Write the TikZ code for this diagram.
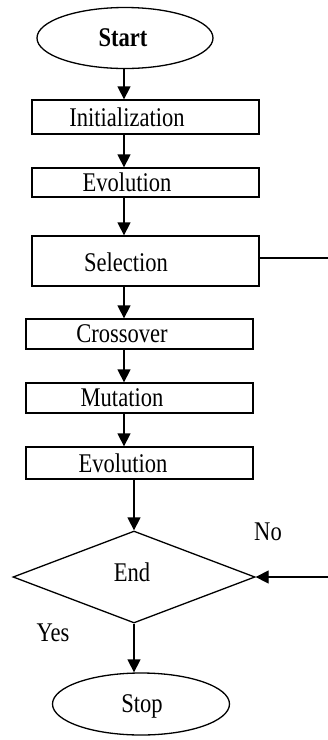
\documentclass[tikz,border=0pt]{standalone}
\usepackage{fontspec}
\setmainfont{Liberation Serif}[FakeStretch=0.835]
\usetikzlibrary{shapes.geometric,arrows.meta}
\begin{document}
\begin{tikzpicture}[x=1pt,y=-1pt,
  font=\fontsize{27}{31}\selectfont,
  line width=1.3pt,
  box/.style={draw, rectangle, inner sep=0pt, minimum width=227pt},
  oval/.style={draw, ellipse, inner sep=0pt, minimum width=176pt, minimum height=61pt},
  dec/.style={draw, diamond, inner sep=0pt, minimum width=242pt, minimum height=92pt},
  txt/.style={inner sep=0pt},
  arr/.style={-{Triangle[width=13pt,length=13pt]}}]
\fill[white] (0,0) rectangle (328,740);
\useasboundingbox (0,0) rectangle (328,740);
% shapes
\node[oval] (start) at (125,38) {};
\node[txt, font=\fontsize{27}{31}\selectfont\bfseries] (tstart) at (123,38) {Start};
\node[box, minimum height=34pt] (init) at (145.5,117) {};
\node[txt] (tinit) at (127,117) {Initialization};
\node[box, minimum height=29pt] (evo1) at (145.5,182.5) {};
\node[txt] (tevo1) at (127,182.5) {Evolution};
\node[box, minimum height=50pt] (sel) at (145.5,261) {};
\node[txt] (tsel) at (126,262) {Selection};
\node[box, minimum height=30pt] (cross) at (139.5,334) {};
\node[txt] (tcross) at (122,334) {Crossover};
\node[box, minimum height=30pt] (mut) at (139.5,398) {};
\node[txt] (tmut) at (122,398) {Mutation};
\node[box, minimum height=32pt] (evo2) at (139.5,463) {};
\node[txt] (tevo2) at (123,463) {Evolution};
\node[dec] (end) at (134,577) {};
\node[txt] (tend) at (132,572) {End};
\node[oval, minimum width=177pt, minimum height=62pt] (stop) at (141,704) {};
\node[txt] (tstop) at (142,706) {Stop};
\node[txt] (no) at (268,532) {No};
\node[txt] (yes) at (53,633) {Yes};
% connectors
\draw[arr] (start.south -| 124,0) -- (init.north -| 124,0);
\draw[arr] (init.south -| 124,0) -- (evo1.north -| 124,0);
\draw[arr] (evo1.south -| 124,0) -- (sel.north -| 124,0);
\draw[arr] (sel.south -| 124,0) -- (cross.north -| 124,0);
\draw[arr] (cross.south -| 124,0) -- (mut.north -| 124,0);
\draw[arr] (mut.south -| 124,0) -- (evo2.north -| 124,0);
\draw[arr] (evo2.south -| end.north) -- (end.north);
\draw[arr] (end.south) -- (end.south |- stop.north);
\coordinate (r1) at (330,258);
\coordinate (r2) at (330,577);
\draw (r1 -| sel.east) -- (r1);
\draw[arr] (r2) -- (end.east);
\end{tikzpicture}
\end{document}
